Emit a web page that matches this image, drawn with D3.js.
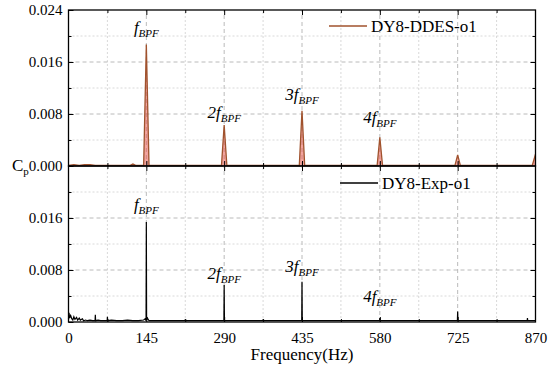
<!DOCTYPE html>
<html>
<head>
<meta charset="utf-8">
<script src="https://cdn.jsdelivr.net/npm/d3@7"></script>
<style>
  body { margin: 0; background: #fff; }
</style>
</head>
<body>
<main></main>
<script>
// x ticks (Hz) and y ticks (Cp)
const xTicks = [0, 145, 290, 435, 580, 725, 870];
const yTicksTop = [0, 0.008, 0.016, 0.024];
const yTicksBottom = [0, 0.008, 0.016];

// DY8-DDES-o1 spectrum (top panel)
const ddesFreq = [0, 10, 20, 30, 40, 50, 60, 80, 100, 115, 120, 125, 140, 145, 150,
  200, 250, 285, 290, 295, 350, 400, 430, 435, 440, 500, 575, 580, 585, 650, 720, 725, 730, 800, 864, 870];
const ddesCp = [0.0001, 0.0002, 0.0001, 0.0002, 0.0002, 0.0001, 0.0001, 0.0001, 0.0001, 0.0001, 0.0003, 0.0001, 0.0001, 0.0187, 0.0001,
  0.0001, 0.0001, 0.0001, 0.0063, 0.0001, 0.0001, 0.0001, 0.0001, 0.0085, 0.0001, 0.0001, 0.0001, 0.0044, 0.0001, 0.0001, 0.0001, 0.0017, 0.0001, 0.0001, 0.0001, 0.0018];

// DY8-Exp-o1 spectrum (bottom panel)
const expFreq = [0, 1, 2, 4, 6, 8, 10, 12, 15, 17, 20, 22, 26, 28, 32, 35, 40, 45, 49.5, 50, 50.5, 55, 60, 66,
  72, 72.5, 73, 80, 90, 100, 110, 120, 130, 140, 143, 144.5, 145, 145.5, 147, 150, 160, 180, 200, 217, 217.5, 218,
  240, 260, 280, 289.5, 290, 290.5, 300, 320, 340, 362, 362.5, 363, 380, 400, 420, 434.5, 435, 435.5, 450, 480, 510,
  540, 579.5, 580, 580.5, 620, 660, 700, 724.5, 725, 725.5, 760, 800, 840, 854.5, 855, 855.5, 870];
const expCp = [0.0004, 0.0014, 0.0006, 0.0010, 0.0005, 0.0003, 0.0008, 0.0004, 0.0007, 0.0003, 0.0006, 0.0003, 0.0005, 0.0002, 0.0003, 0.0002, 0.0003, 0.0002, 0.0002, 0.0011, 0.0002, 0.0003, 0.0002, 0.0002,
  0.0002, 0.0008, 0.0002, 0.0003, 0.0002, 0.0002, 0.0003, 0.0002, 0.0002, 0.0003, 0.0005, 0.0002, 0.0154, 0.0003, 0.0006, 0.0002, 0.0002, 0.0002, 0.0002, 0.0002, 0.0004, 0.0002,
  0.0002, 0.0002, 0.0002, 0.0002, 0.0057, 0.0002, 0.0002, 0.0002, 0.0002, 0.0002, 0.0004, 0.0002, 0.0002, 0.0002, 0.0002, 0.0002, 0.0062, 0.0002, 0.0002, 0.0002, 0.0002,
  0.0002, 0.0002, 0.0006, 0.0002, 0.0002, 0.0002, 0.0002, 0.0002, 0.0016, 0.0002, 0.0002, 0.0002, 0.0002, 0.0002, 0.0006, 0.0002, 0.0002];

// harmonic labels: [freq, Cp position of label, prefix]
const topLabels = [[145, 0.0205, ""], [290, 0.0074, "2"], [435, 0.0101, "3"], [580, 0.0066, "4"]];
const bottomLabels = [[145, 0.0172, ""], [290, 0.0066, "2"], [435, 0.0077, "3"], [580, 0.0031, "4"]];

const FONT = "Liberation Serif";

const svg = d3.select("main").append("svg")
  .attr("width", 550).attr("height", 368);

const x = d3.scaleLinear().domain([0, 870]).range([68.5, 535.5]);
const yTop = d3.scaleLinear().domain([0, 0.024]).range([166, 10]);
const yBot = d3.scaleLinear().domain([0, 0.024]).range([322, 166]);

const minorX = d3.range(72.5, 870, 145);
const minorY = [0.004, 0.012, 0.020];

function panel(y, freq, cp, color, yTicks, labels, legendText, legX, legY) {
  const g = svg.append("g");

  // grid
  g.selectAll(".gx").data(xTicks.slice(1, -1)).join("line")
    .attr("x1", d => x(d)).attr("x2", d => x(d)).attr("y1", y(0)).attr("y2", y(0.024))
    .attr("stroke", "#a8a8a8").attr("stroke-dasharray", "4,3").attr("stroke-width", 0.8);
  g.selectAll(".gxm").data(minorX).join("line")
    .attr("x1", d => x(d)).attr("x2", d => x(d)).attr("y1", y(0)).attr("y2", y(0.024))
    .attr("stroke", "#cfcfcf").attr("stroke-dasharray", "2,2").attr("stroke-width", 0.8);
  g.selectAll(".gy").data([0.008, 0.016]).join("line")
    .attr("x1", x(0)).attr("x2", x(870)).attr("y1", d => y(d)).attr("y2", d => y(d))
    .attr("stroke", "#a8a8a8").attr("stroke-dasharray", "4,3").attr("stroke-width", 0.8);
  g.selectAll(".gym").data(minorY).join("line")
    .attr("x1", x(0)).attr("x2", x(870)).attr("y1", d => y(d)).attr("y2", d => y(d))
    .attr("stroke", "#cfcfcf").attr("stroke-dasharray", "2,2").attr("stroke-width", 0.8);

  const pts = freq.map((f, i) => [f, cp[i]]);
  if (color !== "#000") {
    g.append("path").datum(pts)
      .attr("d", d3.area().x(d => x(d[0])).y0(y(0)).y1(d => y(d[1])))
      .attr("fill", "#e85a50").attr("opacity", 0.55);
  }
  g.append("path").datum(pts)
    .attr("d", d3.line().x(d => x(d[0])).y(d => y(d[1])))
    .attr("fill", "none").attr("stroke", color).attr("stroke-width", color === "#000" ? 1.2 : 1.3);

  // axes with inward ticks
  const left = g.append("g").attr("transform", `translate(${x(0)},0)`)
    .call(d3.axisLeft(y).tickValues(yTicks).tickFormat(d3.format(".3f")).tickSize(-5).tickPadding(6));
  g.append("g").attr("transform", `translate(${x(0)},0)`)
    .call(d3.axisLeft(y).tickValues(minorY).tickFormat("").tickSize(-3));
  g.append("g").attr("transform", `translate(${x(870)},0)`)
    .call(d3.axisRight(y).tickValues([0.008, 0.016]).tickFormat("").tickSize(-5));
  g.append("g").attr("transform", `translate(${x(870)},0)`)
    .call(d3.axisRight(y).tickValues(minorY).tickFormat("").tickSize(-3));
  g.append("g").attr("transform", `translate(0,${y(0.024)})`)
    .call(d3.axisTop(x).tickValues(xTicks.slice(1, -1)).tickFormat("").tickSize(-5));
  g.append("g").attr("transform", `translate(0,${y(0.024)})`)
    .call(d3.axisTop(x).tickValues(minorX).tickFormat("").tickSize(-3));
  g.append("g").attr("transform", `translate(0,${y(0)})`)
    .call(d3.axisBottom(x).tickValues(xTicks.slice(1, -1)).tickFormat("").tickSize(-5));
  g.append("g").attr("transform", `translate(0,${y(0)})`)
    .call(d3.axisBottom(x).tickValues(minorX).tickFormat("").tickSize(-3));
  left.attr("font-family", FONT);
  left.selectAll("text").attr("font-size", 15).attr("fill", "#000");
  g.selectAll(".domain").attr("stroke", "none");
  g.selectAll(".tick line").attr("stroke", "#000").attr("stroke-width", 1);

  g.append("rect").attr("x", x(0)).attr("y", y(0.024))
    .attr("width", x(870) - x(0)).attr("height", y(0) - y(0.024))
    .attr("fill", "none").attr("stroke", "#000").attr("stroke-width", 1.3);

  // harmonic labels
  labels.forEach(([f, v, n]) => {
    const t = g.append("text").attr("x", x(f)).attr("y", y(v)).attr("font-family", FONT)
      .attr("text-anchor", "middle").attr("font-style", "italic").attr("font-size", 17);
    if (n) t.append("tspan").text(n);
    t.append("tspan").text("f");
    t.append("tspan").attr("font-size", 11).attr("dy", 4).text("BPF");
  });

  // legend
  g.append("line").attr("x1", legX).attr("x2", legX + 38).attr("y1", legY).attr("y2", legY)
    .attr("stroke", color).attr("stroke-width", 1.4);
  g.append("text").attr("x", legX + 42).attr("y", legY + 6).attr("font-size", 17)
    .attr("font-family", FONT).text(legendText);
}

panel(yTop, ddesFreq, ddesCp, "#a0522d", yTicksTop, topLabels, "DY8-DDES-o1", 329, 26);
panel(yBot, expFreq, expCp, "#000", yTicksBottom, bottomLabels, "DY8-Exp-o1", 340, 183);

// x tick labels
svg.append("g").attr("transform", `translate(0,${yBot(0)})`)
  .call(d3.axisBottom(x).tickValues(xTicks).tickSize(0).tickPadding(10))
  .call(g => g.select(".domain").remove())
  .attr("font-family", FONT)
  .selectAll("text").attr("font-size", 15).attr("fill", "#000");

svg.append("text").attr("x", x(435)).attr("y", 360).attr("text-anchor", "middle")
  .attr("font-family", FONT).attr("font-size", 17).text("Frequency(Hz)");

const cp = svg.append("text").attr("x", 12).attr("y", 171).attr("font-size", 17)
  .attr("font-family", FONT);
cp.append("tspan").text("C");
cp.append("tspan").attr("font-size", 11).attr("dy", 4).text("p");
</script>
</body>
</html>
